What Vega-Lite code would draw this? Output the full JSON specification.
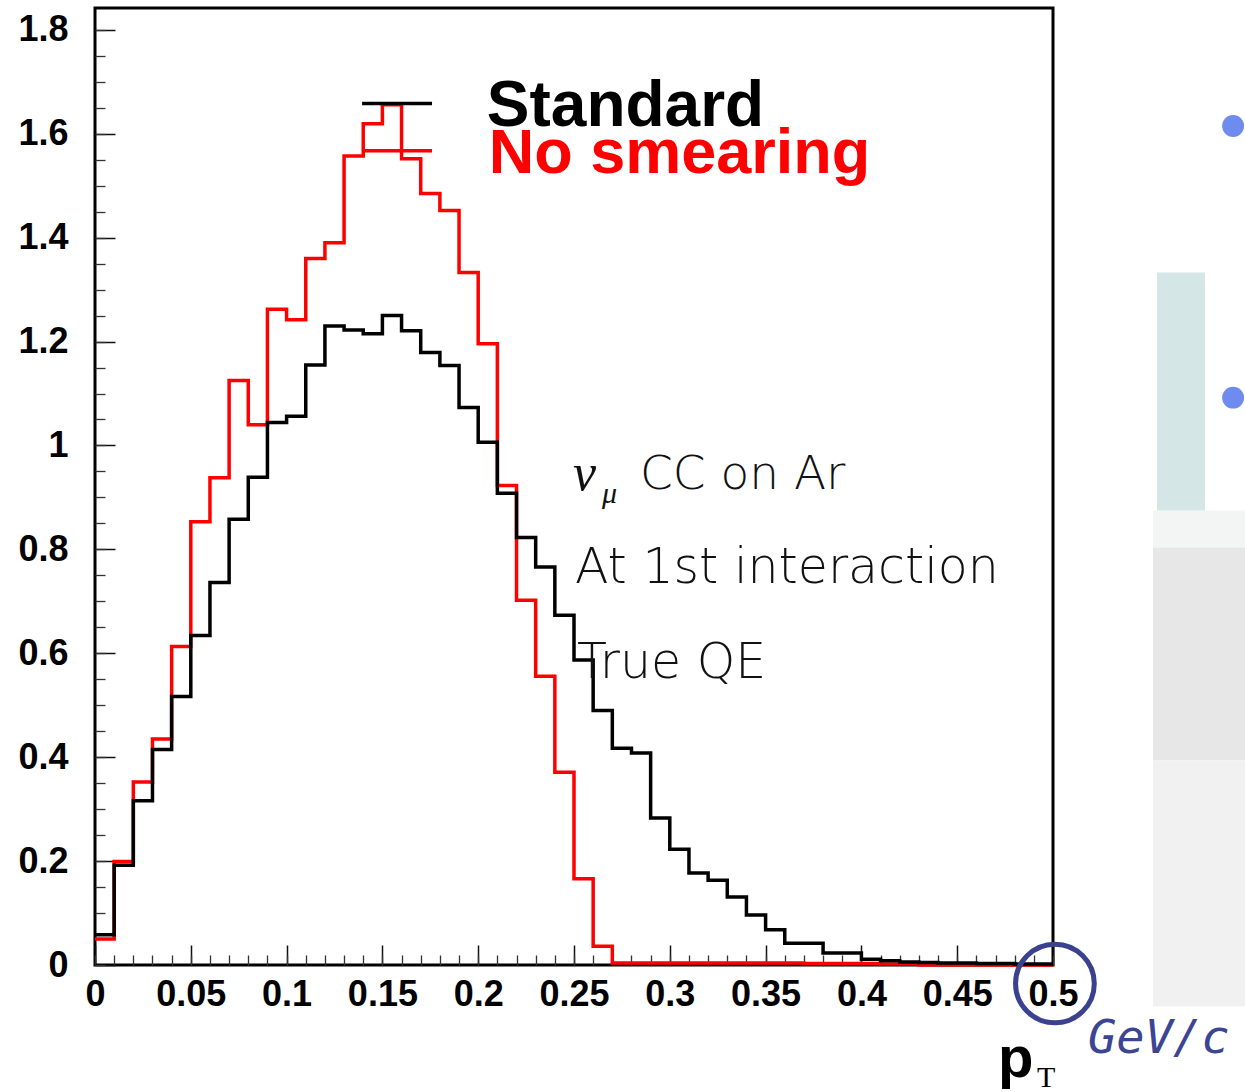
{
  "$schema": "https://vega.github.io/schema/vega-lite/v6.json",
  "width": 958,
  "height": 957,
  "autosize": "none",
  "padding": {"left": 95, "top": 8, "right": 192, "bottom": 127},
  "background": "white",
  "config": {
    "view": {"stroke": "black", "strokeWidth": 3},
    "axis": {"grid": false, "domain": false, "title": null}
  },
  "resolve": {"axis": {"x": "independent", "y": "independent"}},
  "datasets": {
    "standard": [
      {"pt": 0.00, "v": 0.058}, {"pt": 0.01, "v": 0.192}, {"pt": 0.02, "v": 0.316}, {"pt": 0.03, "v": 0.415}, {"pt": 0.04, "v": 0.517},
      {"pt": 0.05, "v": 0.634}, {"pt": 0.06, "v": 0.736}, {"pt": 0.07, "v": 0.858}, {"pt": 0.08, "v": 0.939}, {"pt": 0.09, "v": 1.044},
      {"pt": 0.10, "v": 1.056}, {"pt": 0.11, "v": 1.155}, {"pt": 0.12, "v": 1.230}, {"pt": 0.13, "v": 1.222}, {"pt": 0.14, "v": 1.215},
      {"pt": 0.15, "v": 1.250}, {"pt": 0.16, "v": 1.221}, {"pt": 0.17, "v": 1.179}, {"pt": 0.18, "v": 1.154}, {"pt": 0.19, "v": 1.073},
      {"pt": 0.20, "v": 1.006}, {"pt": 0.21, "v": 0.908}, {"pt": 0.22, "v": 0.823}, {"pt": 0.23, "v": 0.766}, {"pt": 0.24, "v": 0.673},
      {"pt": 0.25, "v": 0.587}, {"pt": 0.26, "v": 0.490}, {"pt": 0.27, "v": 0.417}, {"pt": 0.28, "v": 0.408}, {"pt": 0.29, "v": 0.283},
      {"pt": 0.30, "v": 0.223}, {"pt": 0.31, "v": 0.177}, {"pt": 0.32, "v": 0.163}, {"pt": 0.33, "v": 0.131}, {"pt": 0.34, "v": 0.096},
      {"pt": 0.35, "v": 0.068}, {"pt": 0.36, "v": 0.042}, {"pt": 0.37, "v": 0.042}, {"pt": 0.38, "v": 0.023}, {"pt": 0.39, "v": 0.023},
      {"pt": 0.40, "v": 0.011}, {"pt": 0.41, "v": 0.008}, {"pt": 0.42, "v": 0.006}, {"pt": 0.43, "v": 0.005}, {"pt": 0.44, "v": 0.004},
      {"pt": 0.45, "v": 0.004}, {"pt": 0.46, "v": 0.003}, {"pt": 0.47, "v": 0.003}, {"pt": 0.48, "v": 0.002}, {"pt": 0.49, "v": 0.002},
      {"pt": 0.50, "v": 0.002}
    ],
    "nosmear": [
      {"pt": 0.00, "v": 0.050}, {"pt": 0.01, "v": 0.199}, {"pt": 0.02, "v": 0.352}, {"pt": 0.03, "v": 0.435}, {"pt": 0.04, "v": 0.613},
      {"pt": 0.05, "v": 0.853}, {"pt": 0.06, "v": 0.938}, {"pt": 0.07, "v": 1.125}, {"pt": 0.08, "v": 1.040}, {"pt": 0.09, "v": 1.262},
      {"pt": 0.10, "v": 1.242}, {"pt": 0.11, "v": 1.360}, {"pt": 0.12, "v": 1.390}, {"pt": 0.13, "v": 1.557}, {"pt": 0.14, "v": 1.619},
      {"pt": 0.15, "v": 1.656}, {"pt": 0.16, "v": 1.552}, {"pt": 0.17, "v": 1.485}, {"pt": 0.18, "v": 1.452}, {"pt": 0.19, "v": 1.333},
      {"pt": 0.20, "v": 1.196}, {"pt": 0.21, "v": 0.923}, {"pt": 0.22, "v": 0.702}, {"pt": 0.23, "v": 0.556}, {"pt": 0.24, "v": 0.371},
      {"pt": 0.25, "v": 0.166}, {"pt": 0.26, "v": 0.036}, {"pt": 0.27, "v": 0.004}, {"pt": 0.28, "v": 0.004}, {"pt": 0.29, "v": 0.004},
      {"pt": 0.30, "v": 0.004}, {"pt": 0.31, "v": 0.004}, {"pt": 0.32, "v": 0.004}, {"pt": 0.33, "v": 0.004}, {"pt": 0.34, "v": 0.004},
      {"pt": 0.35, "v": 0.004}, {"pt": 0.36, "v": 0.004}, {"pt": 0.37, "v": 0.003}, {"pt": 0.38, "v": 0.003}, {"pt": 0.39, "v": 0.003},
      {"pt": 0.40, "v": 0.003}, {"pt": 0.41, "v": 0.002}, {"pt": 0.42, "v": 0.002}, {"pt": 0.43, "v": 0}, {"pt": 0.44, "v": 0},
      {"pt": 0.45, "v": 0}, {"pt": 0.46, "v": 0}, {"pt": 0.47, "v": 0}, {"pt": 0.48, "v": 0}, {"pt": 0.49, "v": 0},
      {"pt": 0.50, "v": 0}
    ]
  },
  "layer": [
    {
      "data": {"values": [{}]},
      "mark": {"type": "rect", "color": "#f3f5f5"},
      "encoding": {
        "x": {"datum": 0.5522, "type": "quantitative", "axis": null}, "x2": {"datum": 0.6002},
        "y": {"datum": 0.875, "type": "quantitative", "axis": null}, "y2": {"datum": 0.8038}
      }
    },
    {
      "data": {"values": [{}]},
      "mark": {"type": "rect", "color": "#e7e7e7"},
      "encoding": {
        "x": {"datum": 0.5522, "type": "quantitative", "axis": null}, "x2": {"datum": 0.6002},
        "y": {"datum": 0.8038, "type": "quantitative", "axis": null}, "y2": {"datum": 0.394}
      }
    },
    {
      "data": {"values": [{}]},
      "mark": {"type": "rect", "color": "#f1f1f1"},
      "encoding": {
        "x": {"datum": 0.5522, "type": "quantitative", "axis": null}, "x2": {"datum": 0.6002},
        "y": {"datum": 0.394, "type": "quantitative", "axis": null}, "y2": {"datum": -0.08}
      }
    },
    {
      "data": {"values": [{}]},
      "mark": {"type": "rect", "color": "#d4e6e5"},
      "encoding": {
        "x": {"datum": 0.5543, "type": "quantitative", "axis": null}, "x2": {"datum": 0.5793},
        "y": {"datum": 1.3327, "type": "quantitative", "axis": null}, "y2": {"datum": 0.875}
      }
    },
    {
      "data": {"name": "nosmear"},
      "mark": {"type": "line", "interpolate": "step-after", "color": "#ff0000", "strokeWidth": 3.5, "strokeJoin": "miter"},
      "encoding": {
        "x": {
          "field": "pt", "type": "quantitative",
          "scale": {"domain": [0, 0.5], "nice": false, "zero": false},
          "axis": {
            "orient": "bottom",
            "values": [0, 0.05, 0.1, 0.15, 0.2, 0.25, 0.3, 0.35, 0.4, 0.45, 0.5],
            "format": "~g", "ticks": false, "labelPadding": 12, "labelFontSize": 36,
            "labelFont": "Liberation Sans", "labelFontWeight": "bold", "labelColor": "black",
            "labelFlush": false, "labelOverlap": false
          }
        },
        "y": {
          "field": "v", "type": "quantitative",
          "scale": {"domain": [0, 1.842], "nice": false, "zero": false},
          "axis": {
            "orient": "left",
            "values": [0, 0.2, 0.4, 0.6, 0.8, 1, 1.2, 1.4, 1.6, 1.8],
            "format": "~g", "ticks": false, "labelPadding": 27, "labelFontSize": 36,
            "labelFont": "Liberation Sans", "labelFontWeight": "bold", "labelColor": "black",
            "labelFlush": false, "labelOverlap": false
          }
        }
      }
    },
    {
      "data": {"name": "standard"},
      "mark": {"type": "line", "interpolate": "step-after", "color": "#000000", "strokeWidth": 3.5, "strokeJoin": "miter"},
      "encoding": {
        "x": {
          "field": "pt", "type": "quantitative",
          "scale": {"domain": [0, 0.5], "nice": false, "zero": false},
          "axis": {
            "orient": "bottom",
            "values": [0, 0.05, 0.1, 0.15, 0.2, 0.25, 0.3, 0.35, 0.4, 0.45, 0.5],
            "labels": false, "ticks": true, "tickSize": 20, "offset": -20, "tickColor": "#111", "tickWidth": 1.5
          }
        },
        "y": {
          "field": "v", "type": "quantitative",
          "scale": {"domain": [0, 1.842], "nice": false, "zero": false},
          "axis": {
            "orient": "left",
            "values": [0, 0.2, 0.4, 0.6, 0.8, 1, 1.2, 1.4, 1.6, 1.8],
            "labels": false, "ticks": true, "tickSize": 20, "offset": -20, "tickColor": "#111", "tickWidth": 1.5
          }
        }
      }
    },
    {
      "data": {"values": [{}]},
      "mark": {"type": "rule", "color": "#000000", "strokeWidth": 3.5},
      "encoding": {
        "x": {
          "datum": 0.1394, "type": "quantitative",
          "axis": {
            "orient": "bottom",
            "values": [0, 0.01, 0.02, 0.03, 0.04, 0.05, 0.06, 0.07, 0.08, 0.09, 0.1, 0.11, 0.12, 0.13, 0.14, 0.15, 0.16, 0.17, 0.18, 0.19, 0.2, 0.21, 0.22, 0.23, 0.24, 0.25, 0.26, 0.27, 0.28, 0.29, 0.3, 0.31, 0.32, 0.33, 0.34, 0.35, 0.36, 0.37, 0.38, 0.39, 0.4, 0.41, 0.42, 0.43, 0.44, 0.45, 0.46, 0.47, 0.48, 0.49, 0.5],
            "labels": false, "ticks": true, "tickSize": 10, "offset": -10, "tickColor": "#333", "tickWidth": 1.3
          }
        },
        "x2": {"datum": 0.1759},
        "y": {
          "datum": 1.658, "type": "quantitative",
          "axis": {
            "orient": "left",
            "values": [0, 0.05, 0.1, 0.15, 0.2, 0.25, 0.3, 0.35, 0.4, 0.45, 0.5, 0.55, 0.6, 0.65, 0.7, 0.75, 0.8, 0.85, 0.9, 0.95, 1, 1.05, 1.1, 1.15, 1.2, 1.25, 1.3, 1.35, 1.4, 1.45, 1.5, 1.55, 1.6, 1.65, 1.7, 1.75, 1.8],
            "labels": false, "ticks": true, "tickSize": 10, "offset": -10, "tickColor": "#333", "tickWidth": 1.3
          }
        }
      }
    },
    {
      "data": {"values": [{}]},
      "mark": {"type": "rule", "color": "#ff0000", "strokeWidth": 3.5},
      "encoding": {
        "x": {"datum": 0.1394, "type": "quantitative", "axis": null},
        "x2": {"datum": 0.1759},
        "y": {"datum": 1.567, "type": "quantitative", "axis": null}
      }
    },
    {
      "data": {"values": [{}]},
      "mark": {"type": "text", "text": "Standard", "font": "Liberation Sans", "fontWeight": "bold", "fontSize": 64, "color": "#000000", "align": "left", "baseline": "alphabetic"},
      "encoding": {
        "x": {"datum": 0.2045, "type": "quantitative", "axis": null},
        "y": {"datum": 1.615, "type": "quantitative", "axis": null}
      }
    },
    {
      "data": {"values": [{}]},
      "mark": {"type": "text", "text": "No smearing", "font": "Liberation Sans", "fontWeight": "bold", "fontSize": 63, "color": "#ff0000", "align": "left", "baseline": "alphabetic"},
      "encoding": {
        "x": {"datum": 0.2055, "type": "quantitative", "axis": null},
        "y": {"datum": 1.525, "type": "quantitative", "axis": null}
      }
    },
    {
      "data": {"values": [{}]},
      "mark": {"type": "text", "text": "ν", "font": "Liberation Serif", "fontStyle": "italic", "fontSize": 52, "color": "#111", "align": "left", "baseline": "alphabetic"},
      "encoding": {
        "x": {"datum": 0.2495, "type": "quantitative", "axis": null},
        "y": {"datum": 0.9135, "type": "quantitative", "axis": null}
      }
    },
    {
      "data": {"values": [{}]},
      "mark": {"type": "text", "text": "μ", "font": "Liberation Serif", "fontStyle": "italic", "fontSize": 30, "color": "#111", "align": "left", "baseline": "alphabetic"},
      "encoding": {
        "x": {"datum": 0.2646, "type": "quantitative", "axis": null},
        "y": {"datum": 0.890, "type": "quantitative", "axis": null}
      }
    },
    {
      "data": {"values": [{}]},
      "mark": {"type": "text", "text": "CC on Ar", "font": "DejaVu Sans", "fontWeight": 200, "fontSize": 47, "color": "#111", "align": "left", "baseline": "alphabetic"},
      "encoding": {
        "x": {"datum": 0.2844, "type": "quantitative", "axis": null},
        "y": {"datum": 0.9154, "type": "quantitative", "axis": null}
      }
    },
    {
      "data": {"values": [{}]},
      "mark": {"type": "text", "text": "At 1st interaction", "font": "DejaVu Sans", "fontWeight": 200, "fontSize": 49, "color": "#111", "align": "left", "baseline": "alphabetic"},
      "encoding": {
        "x": {"datum": 0.2505, "type": "quantitative", "axis": null},
        "y": {"datum": 0.7346, "type": "quantitative", "axis": null}
      }
    },
    {
      "data": {"values": [{}]},
      "mark": {"type": "text", "text": "True QE", "font": "DejaVu Sans", "fontWeight": 200, "fontSize": 49, "color": "#111", "align": "left", "baseline": "alphabetic"},
      "encoding": {
        "x": {"datum": 0.2516, "type": "quantitative", "axis": null},
        "y": {"datum": 0.552, "type": "quantitative", "axis": null}
      }
    },
    {
      "data": {"values": [{}]},
      "mark": {"type": "text", "text": "p", "font": "Liberation Sans", "fontWeight": "bold", "fontSize": 58, "color": "#000000", "align": "left", "baseline": "alphabetic"},
      "encoding": {
        "x": {"datum": 0.4713, "type": "quantitative", "axis": null},
        "y": {"datum": -0.2154, "type": "quantitative", "axis": null}
      }
    },
    {
      "data": {"values": [{}]},
      "mark": {"type": "text", "text": "T", "font": "Liberation Serif", "fontSize": 30, "color": "#000000", "align": "left", "baseline": "alphabetic"},
      "encoding": {
        "x": {"datum": 0.4916, "type": "quantitative", "axis": null},
        "y": {"datum": -0.2346, "type": "quantitative", "axis": null}
      }
    },
    {
      "data": {"values": [{}]},
      "mark": {"type": "text", "text": "GeV/c", "font": "DejaVu Sans Mono", "fontStyle": "italic", "fontSize": 47, "color": "#3c4494", "align": "left", "baseline": "alphabetic"},
      "encoding": {
        "x": {"datum": 0.5183, "type": "quantitative", "axis": null},
        "y": {"datum": -0.169, "type": "quantitative", "axis": null}
      }
    },
    {
      "data": {"values": [{}]},
      "mark": {"type": "point", "shape": "circle", "filled": false, "size": 6200, "stroke": "#3a428f", "strokeWidth": 5, "opacity": 1},
      "encoding": {
        "x": {"datum": 0.501, "type": "quantitative", "axis": null},
        "y": {"datum": -0.0356, "type": "quantitative", "axis": null}
      }
    },
    {
      "data": {"values": [{}]},
      "mark": {"type": "point", "shape": "circle", "filled": true, "size": 480, "color": "#6e8cf0", "opacity": 1},
      "encoding": {
        "x": {"datum": 0.594, "type": "quantitative", "axis": null},
        "y": {"datum": 1.615, "type": "quantitative", "axis": null}
      }
    },
    {
      "data": {"values": [{}]},
      "mark": {"type": "point", "shape": "circle", "filled": true, "size": 480, "color": "#6e8cf0", "opacity": 1},
      "encoding": {
        "x": {"datum": 0.594, "type": "quantitative", "axis": null},
        "y": {"datum": 1.092, "type": "quantitative", "axis": null}
      }
    }
  ]
}
